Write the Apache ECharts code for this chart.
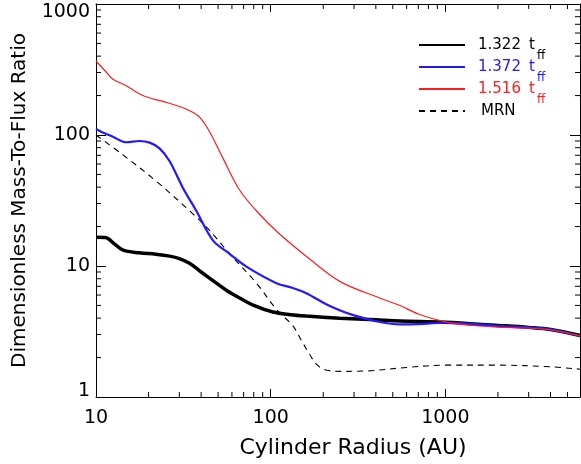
<!DOCTYPE html>
<html>
<head>
<meta charset="utf-8">
<script src="https://cdn.jsdelivr.net/npm/echarts@6/dist/echarts.min.js"></script>
<style>html,body{margin:0;padding:0;background:#fff;}#c{width:581px;height:464px;}</style>
</head>
<body>
<div id="c"></div>
<script>
// ---- axis ranges & ticks ----
const X_MIN = 10, X_MAX = 5900, Y_MIN = 1, Y_MAX = 1000;
const xMinorTicks = [20,30,40,50,60,70,80,90,200,300,400,500,600,700,800,900,2000,3000,4000,5000];
const yMinorTicks = [2,3,4,5,6,7,8,9,20,30,40,50,60,70,80,90,200,300,400,500,600,700,800,900];

// ---- series names ----
const seriesNames = ['1.322', '1.372', '1.516', 'MRN'];

// ---- series values [radius AU, ratio] ----
const black1322 = [[10,16.6],[11.3,16.5],[12.8,14.7],[14.3,13.2],[17.7,12.6],[22,12.3],[26.4,11.9],[30,11.4],[34.3,10.5],[40,9.0],[48.9,7.4],[56,6.5],[66.4,5.7],[80,5.0],[103,4.45],[130,4.25],[160,4.15],[248,4.0],[400,3.88],[550,3.8],[1000,3.72],[2000,3.52],[3000,3.4],[4000,3.28],[5900,2.95]];
const blue1372 = [[10,111],[11,104],[12.5,97],[14.9,88],[17.7,90],[20.3,87.5],[23.1,79],[26.4,63],[31.4,39.6],[37.5,26.4],[46.7,15.7],[58.2,12.4],[72.6,9.9],[108,7.4],[134,6.8],[160,6.2],[208,5.1],[248,4.6],[300,4.2],[400,3.8],[550,3.58],[750,3.62],[1000,3.7],[2000,3.5],[3000,3.4],[4000,3.28],[5900,2.92]];
const red1516 = [[10,367],[11.5,300],[12.5,267],[14.9,238],[18.5,200],[25,178],[32,160],[35.5,150],[39.2,137],[44.7,106],[53.3,66.6],[66.4,38],[82.8,26.4],[110,18],[170,11.1],[250,7.6],[420,5.7],[550,5.0],[700,4.3],[1000,3.75],[1500,3.5],[2000,3.42],[3000,3.35],[4000,3.25],[5900,2.93]];
const mrn = [[10,100],[14.25,70.6],[22.1,44.5],[34.3,26.4],[44.7,18.7],[58.2,12.4],[82.8,7.4],[108,4.66],[134,3.49],[150,2.7],[166,2.15],[185,1.75],[210,1.6],[250,1.57],[350,1.58],[600,1.68],[1000,1.75],[2000,1.75],[4000,1.7],[5900,1.63]];

const FONT = 'DejaVu Sans';
const colors = ['#000000', '#2318ff', '#ff1c1c', '#000000'];

const chart = echarts.init(document.getElementById('c'), null, {renderer: 'canvas'});

function minorTickItem(isX) {
  return function (params, api) {
    const st = {stroke: '#000', lineWidth: 1};
    if (isX) {
      const v = api.value(0);
      const pb = api.coord([v, Y_MIN]);
      const pt = api.coord([v, Y_MAX]);
      return {type: 'group', children: [
        {type: 'line', shape: {x1: pb[0], y1: pb[1], x2: pb[0], y2: pb[1] - 5}, style: st},
        {type: 'line', shape: {x1: pt[0], y1: pt[1], x2: pt[0], y2: pt[1] + 5}, style: st}
      ]};
    } else {
      const v = api.value(1);
      const pl = api.coord([X_MIN, v]);
      const pr = api.coord([X_MAX, v]);
      return {type: 'group', children: [
        {type: 'line', shape: {x1: pl[0], y1: pl[1], x2: pl[0] + 5, y2: pl[1]}, style: st},
        {type: 'line', shape: {x1: pr[0], y1: pr[1], x2: pr[0] - 5, y2: pr[1]}, style: st}
      ]};
    }
  };
}

const axisCommon = {
  type: 'log', logBase: 10,
  axisLine: {show: true, lineStyle: {color: '#000', width: 1}},
  splitLine: {show: false},
  minorTick: {show: false}
};

const legendRich = {e: {fontFamily: FONT, fontSize: 8, lineHeight: 10},
  m: {fontFamily: FONT, fontSize: 15, color: '#000', lineHeight: 12, padding: [0,0,0,11]}};
colors.slice(0, 3).forEach(function (c, i) {
  legendRich['n' + i] = {fontFamily: FONT, fontSize: 15, color: c, lineHeight: 12, padding: [0,0,0,8]};
  legendRich['t' + i] = {fontFamily: FONT, fontSize: 15, color: c, lineHeight: 12, padding: [0,0,0,8]};
  legendRich['s' + i] = {fontFamily: FONT, fontSize: 12, color: c, lineHeight: 10, padding: [0,0,0,67]};
});

const option = {
  animation: false,
  backgroundColor: '#fff',
  grid: {left: 96, right: 1, top: 4, bottom: 62, containLabel: false},
  legend: {
    orient: 'vertical', left: 418, top: 30, padding: 0, itemGap: -10,
    itemWidth: 46, itemHeight: 14,
    data: seriesNames,
    itemStyle: {color: 'rgba(0,0,0,0)', borderColor: 'rgba(0,0,0,0)', borderWidth: 0, opacity: 0},
    formatter: function (name) {
      const i = seriesNames.indexOf(name);
      if (name === 'MRN') return '{e| }\n{m|MRN}\n{e| }';
      return '{e| }\n{n' + i + '|' + name + '}{t' + i + '|t}\n{s' + i + '|ff}';
    },
    textStyle: {fontFamily: FONT, fontSize: 15, rich: legendRich}
  },
  xAxis: [
    Object.assign({}, axisCommon, {
      position: 'bottom', min: X_MIN, max: X_MAX,
      axisTick: {show: true, inside: true, length: 8, lineStyle: {color: '#000'}},
      axisLabel: {show: true, margin: 12, showMaxLabel: false, color: '#000', fontFamily: FONT, fontSize: 19,
        formatter: function (v) { return String(Math.round(v)); }},
      name: 'Cylinder Radius (AU)', nameLocation: 'middle', nameGap: 40,
      nameTextStyle: {fontFamily: FONT, fontSize: 22, color: '#000', padding: [0,0,0,30]}
    }),
    Object.assign({}, axisCommon, {
      position: 'top', min: X_MIN, max: X_MAX,
      axisTick: {show: true, inside: true, length: 8, lineStyle: {color: '#000'}},
      axisLabel: {show: false}
    })
  ],
  yAxis: [
    Object.assign({}, axisCommon, {
      position: 'left', min: Y_MIN, max: Y_MAX,
      axisTick: {show: true, inside: true, length: 10, lineStyle: {color: '#000'}},
      axisLabel: {show: true, margin: 6, showMinLabel: true, showMaxLabel: true, color: '#000', fontFamily: FONT, fontSize: 19,
        formatter: function (v) {
          const r = Math.round(v);
          if (r === Y_MAX) return '{t|' + r + '}';
          if (r === Y_MIN) return '{b|' + r + '}';
          return String(r);
        },
        rich: {
          t: {fontFamily: FONT, fontSize: 19, color: '#000', padding: [16,0,0,0]},
          b: {fontFamily: FONT, fontSize: 19, color: '#000', padding: [0,0,12,0]}
        }
      },
      name: 'Dimensionless Mass-To-Flux Ratio', nameLocation: 'middle', nameGap: 66,
      nameTextStyle: {fontFamily: FONT, fontSize: 20, color: '#000'}
    }),
    Object.assign({}, axisCommon, {
      position: 'right', min: Y_MIN, max: Y_MAX,
      axisTick: {show: true, inside: true, length: 10, lineStyle: {color: '#000'}},
      axisLabel: {show: false}
    })
  ],
  series: [
    {name: seriesNames[0], type: 'line', data: black1322, smooth: 0.35, symbol: 'none', lineStyle: {color: colors[0], width: 3.5}, itemStyle: {color: colors[0]}, z: 4},
    {name: seriesNames[1], type: 'line', data: blue1372, smooth: 0.35, symbol: 'none', lineStyle: {color: colors[1], width: 2.2}, itemStyle: {color: colors[1]}, z: 5},
    {name: seriesNames[2], type: 'line', data: red1516, smooth: 0.35, symbol: 'none', lineStyle: {color: colors[2], width: 1.2}, itemStyle: {color: colors[2]}, z: 6},
    {name: seriesNames[3], type: 'line', data: mrn, smooth: 0.35, symbol: 'none', lineStyle: {color: colors[3], width: 1.1, type: [6, 5]}, itemStyle: {color: '#555'}, z: 3},
    {type: 'custom', silent: true, renderItem: minorTickItem(true), data: xMinorTicks.map(v => [v, Y_MIN]), encode: {x: 0, y: 1}, z: 2},
    {type: 'custom', silent: true, renderItem: minorTickItem(false), data: yMinorTicks.map(v => [X_MIN, v]), encode: {x: 0, y: 1}, z: 2}
  ]
};
chart.setOption(option);
</script>
</body>
</html>
